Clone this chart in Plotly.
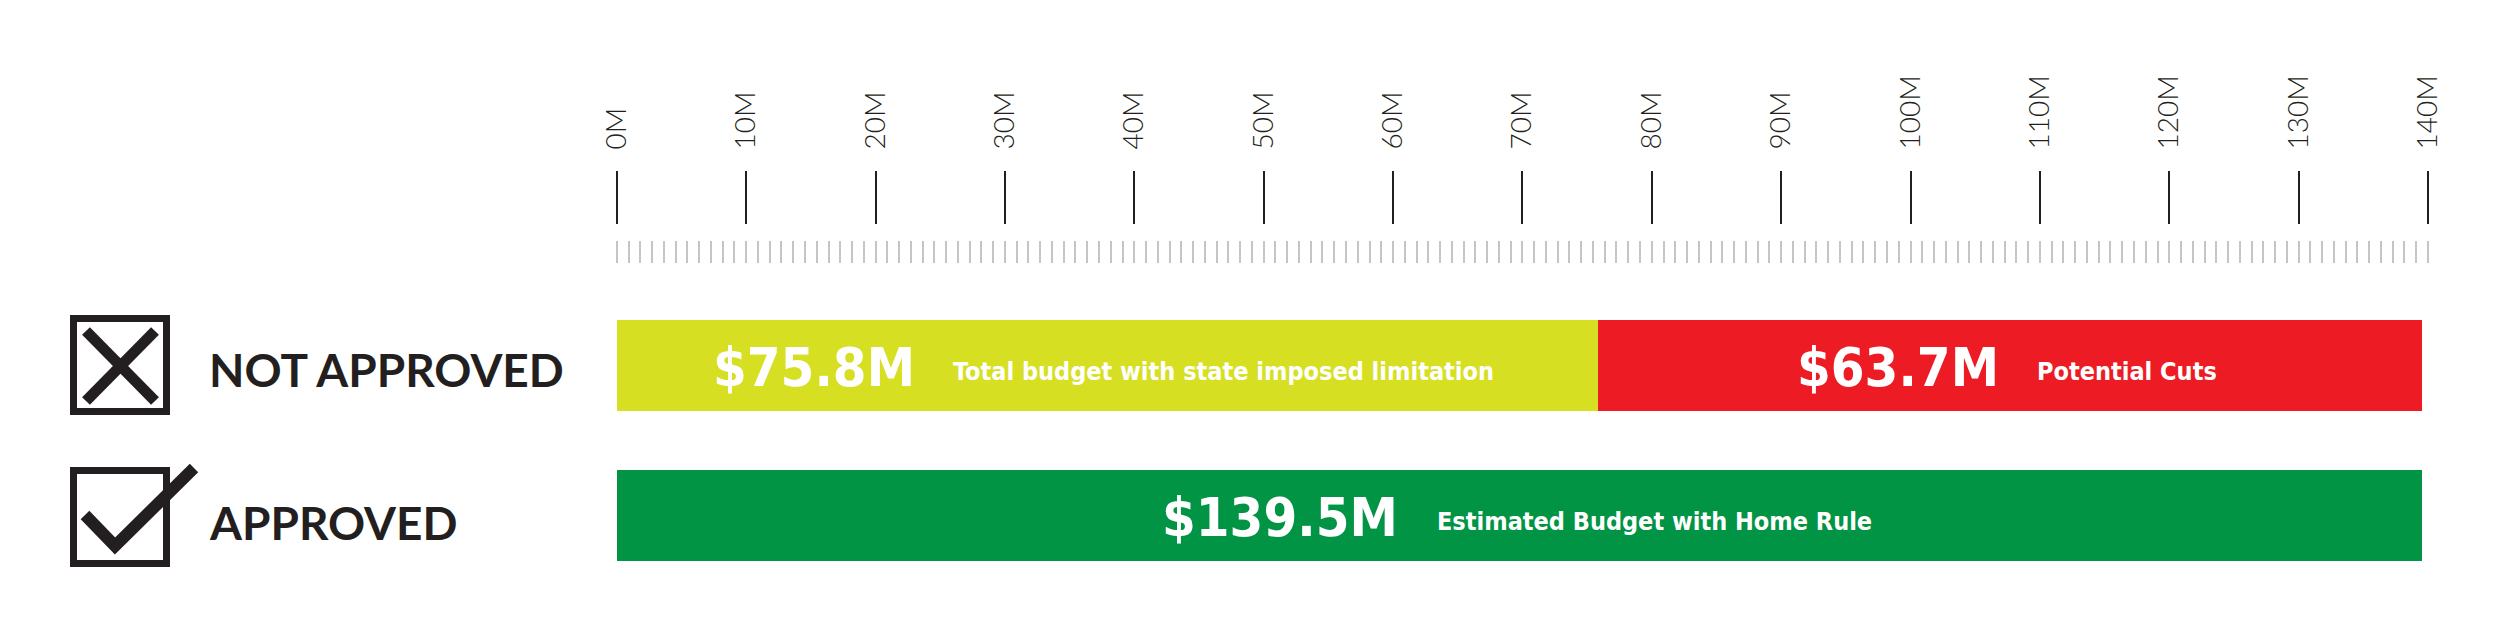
import numpy as np
import plotly.graph_objects as go

# ---------------- data ----------------
categories = ["APPROVED", "NOT APPROVED"]
limited_budget = [None, 75.8]      # Total budget with state imposed limitation
potential_cuts = [None, 63.7]      # Potential Cuts
home_rule_budget = [139.5, None]   # Estimated Budget with Home Rule
tick_values = list(range(0, 141, 10))
tick_labels = [f"{v}M" for v in tick_values]
value_labels = ["$75.8M", "$63.7M", "$139.5M"]
desc_labels = ["Total budget with state imposed limitation", "Potential Cuts",
               "Estimated Budget with Home Rule"]

# ---------------- style ----------------
W, H = 2500, 627
YELLOW, RED, GREEN = "#D7DF23", "#ED1C24", "#009444"
INK = "#231F20"
BAR_FONT = "DejaVu Sans Condensed, Liberation Sans Narrow, DejaVu Sans, sans-serif"
LABEL_FONT = "Lato"

fig = go.Figure()
fig.add_trace(go.Bar(y=categories, x=limited_budget, orientation="h",
                     marker=dict(color=YELLOW, line=dict(width=0)), width=0.607,
                     hoverinfo="skip", showlegend=False))
fig.add_trace(go.Bar(y=categories, x=potential_cuts, orientation="h",
                     marker=dict(color=RED, line=dict(width=0)), width=0.607,
                     hoverinfo="skip", showlegend=False))
fig.add_trace(go.Bar(y=categories, x=home_rule_budget, orientation="h",
                     marker=dict(color=GREEN, line=dict(width=0)), width=0.607,
                     hoverinfo="skip", showlegend=False))

# invisible helpers so the ruler axes are rendered
for ax in ["x2", "x3"]:
    fig.add_trace(go.Scatter(x=[tick_values[0], tick_values[-1]], y=[categories[0], categories[0]],
                             xaxis=ax, yaxis="y", mode="markers",
                             marker=dict(opacity=0), hoverinfo="skip", showlegend=False))

x0px, x140px = 616.8, 2428.0
dom = [x0px / W, x140px / W]
minor_vals = list(np.linspace(0, 140, 155))

fig.update_layout(
    width=W, height=H, template="none",
    margin=dict(l=0, r=0, t=0, b=0, pad=0),
    paper_bgcolor="white", plot_bgcolor="white",
    barmode="stack", bargap=0,
    xaxis=dict(domain=dom, range=[0, 140], visible=False, fixedrange=True),
    yaxis=dict(domain=[0, 1], type="category", categoryorder="array",
               categoryarray=categories, range=[-0.743, 3.437],
               visible=False, fixedrange=True),
    xaxis2=dict(overlaying="x", anchor="free", side="top",
                position=1 - 224 / H, range=[0, 140],
                tickmode="array", tickvals=tick_values, ticktext=tick_labels,
                ticks="outside", ticklen=53, tickwidth=2, tickcolor=INK,
                tickangle=-90, ticklabelstandoff=16,
                tickfont=dict(family=LABEL_FONT, size=28, color=INK, weight=300),
                showline=False, showgrid=False, zeroline=False, automargin=False),
    xaxis3=dict(overlaying="x", anchor="free", side="top",
                position=1 - 263 / H, range=[0, 140],
                tickmode="array", tickvals=minor_vals, showticklabels=False,
                ticks="outside", ticklen=22, tickwidth=2, tickcolor="#C3C6C9",
                showline=False, showgrid=False, zeroline=False, automargin=False),
)

# ---------------- bar annotations ----------------
segments = [
    (0, limited_budget[1], categories[1], -190, -156),
    (limited_budget[1], potential_cuts[1], categories[1], -8, 26),
    (0, home_rule_budget[0], categories[0], -119, -84),
]
COND = "font-stretch:condensed"
for (base, val, cat, big_shift, small_shift), vlab, dlab in zip(segments, value_labels, desc_labels):
    center = base + val / 2
    fig.add_annotation(x=center, y=cat, xref="x", yref="y",
                       text=f"<span style='{COND}'><b>{vlab}</b></span>",
                       showarrow=False, xanchor="right", yanchor="middle",
                       xshift=big_shift, yshift=-2,
                       font=dict(family=BAR_FONT, size=54, color="white"))
    fig.add_annotation(x=center, y=cat, xref="x", yref="y",
                       text=f"<span style='{COND}'><b>{dlab}</b></span>",
                       showarrow=False, xanchor="left", yanchor="middle",
                       xshift=small_shift, yshift=-6,
                       font=dict(family=BAR_FONT, size=25, color="white"))

# ---------------- left labels + icons ----------------
def px(x):
    return x / W


def py(y):
    return 1 - y / H


for cat, yc in [(categories[1], 369.5), (categories[0], 522)]:
    fig.add_annotation(x=px(207), y=py(yc), xref="paper", yref="paper", text=f"<b>{cat}</b>",
                       showarrow=False, xanchor="left", yanchor="middle",
                       font=dict(family=LABEL_FONT, size=46, color=INK))

# boxes
for top in [315, 467]:
    fig.add_shape(type="rect", xref="paper", yref="paper",
                  x0=px(73.5), x1=px(166.5), y0=py(top + 3.5), y1=py(top + 96.5),
                  line=dict(color=INK, width=7), fillcolor="rgba(0,0,0,0)")
# X mark
for (ax, ay, bx, by) in [(86, 331, 155, 401), (155, 331, 86, 401)]:
    fig.add_shape(type="line", xref="paper", yref="paper",
                  x0=px(ax), y0=py(ay), x1=px(bx), y1=py(by),
                  line=dict(color=INK, width=11))
# check mark
fig.add_shape(type="path", xref="paper", yref="paper",
              path=f"M {px(85)} {py(515)} L {px(115)} {py(546)} L {px(194)} {py(468)}",
              line=dict(color=INK, width=12))

fig.write_html("out.html")
